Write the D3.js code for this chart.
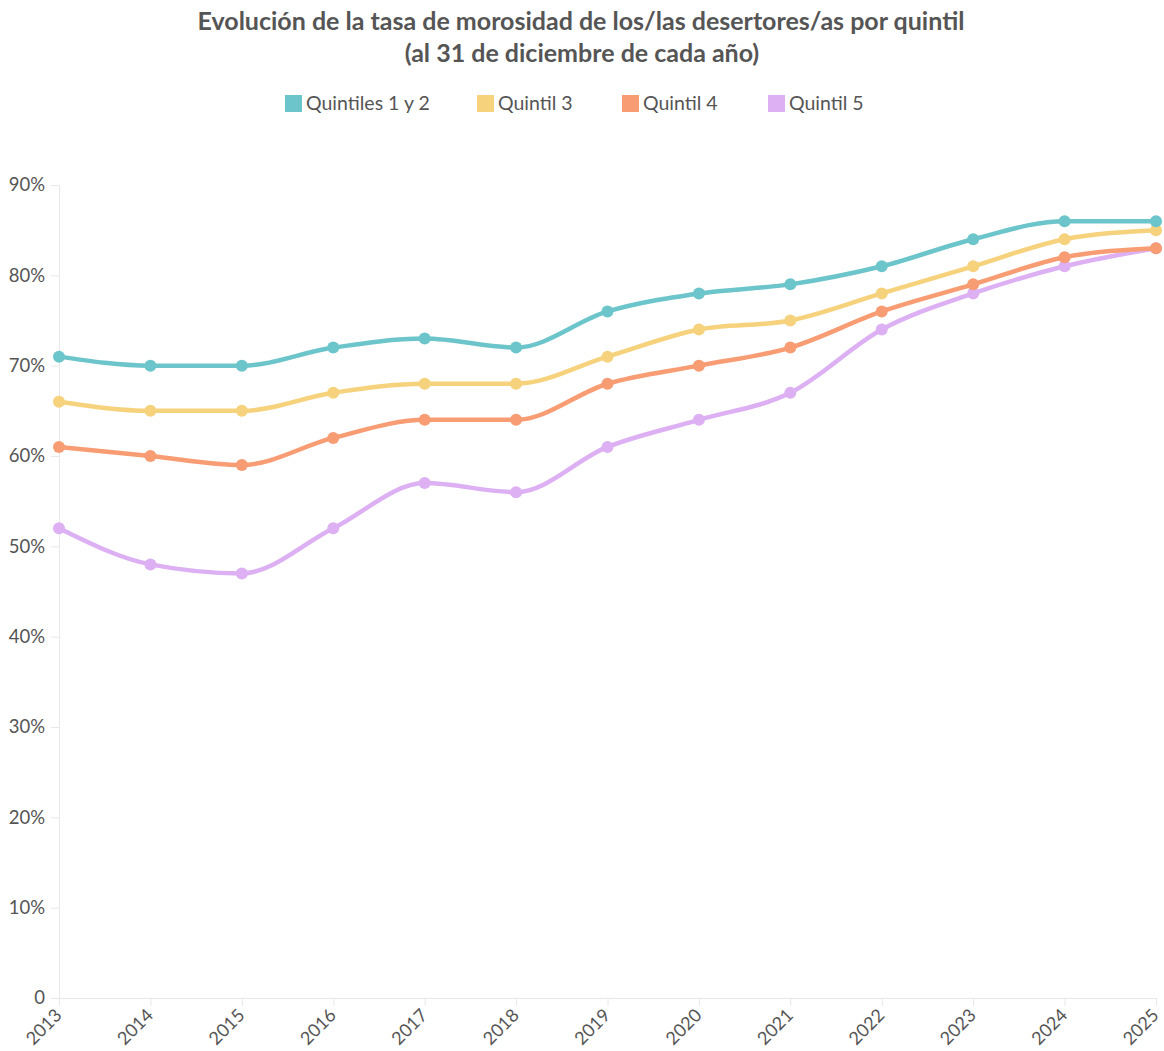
<!DOCTYPE html>
<html>
<head>
<meta charset="utf-8">
<script src="https://cdn.jsdelivr.net/npm/d3@7"></script>
<style>
  body { margin: 0; background: #fff; }
  text { font-family: Lato, "Open Sans", sans-serif; }
</style>
</head>
<body>
<div id="chart"></div>
<script>
var years = ["2013","2014","2015","2016","2017","2018","2019","2020","2021","2022","2023","2024","2025"];
var seriesNames = ["Quintiles 1 y 2", "Quintil 3", "Quintil 4", "Quintil 5"];
var q12 = [71, 70, 70, 72, 73, 72, 76, 78, 79, 81, 84, 86, 86];
var q3  = [66, 65, 65, 67, 68, 68, 71, 74, 75, 78, 81, 84, 85];
var q4  = [61, 60, 59, 62, 64, 64, 68, 70, 72, 76, 79, 82, 83];
var q5  = [52, 48, 47, 52, 57, 56, 61, 64, 67, 74, 78, 81, 83];
var yTicks = [0, 10, 20, 30, 40, 50, 60, 70, 80, 90];
var colors = ["#6cc5ca", "#f6d27c", "#f79c73", "#dcb0f2"];

var w = 1164, h = 1051;
var margin = { left: 59, right: 8, top: 185, bottom: 53 };

var svg = d3.select("#chart").append("svg")
  .attr("width", w)
  .attr("height", h);

// title
svg.append("text")
  .attr("x", 581).attr("y", 30)
  .attr("text-anchor", "middle")
  .attr("font-size", "25px").attr("font-weight", "bold")
  .attr("fill", "#555")
  .text("Evolución de la tasa de morosidad de los/las desertores/as por quintil");
svg.append("text")
  .attr("x", 582).attr("y", 62)
  .attr("text-anchor", "middle")
  .attr("font-size", "25px").attr("font-weight", "bold")
  .attr("fill", "#555")
  .text("(al 31 de diciembre de cada año)");

var x = d3.scalePoint()
  .domain(years)
  .range([margin.left, w - margin.right]);

var y = d3.scaleLinear()
  .domain([0, 90])
  .range([h - margin.bottom, margin.top]);

// axes
var yAxis = svg.append("g")
  .attr("transform", "translate(" + margin.left + ",0)")
  .call(d3.axisLeft(y).tickValues(yTicks).tickSize(8).tickPadding(6)
    .tickFormat(function(d) { return d === 0 ? "0" : d + "%"; }));
yAxis.select(".domain").attr("stroke", "#e8e8e8");
yAxis.selectAll(".tick line").attr("stroke", "#e8e8e8");
yAxis.selectAll(".tick text")
  .attr("font-size", "18.5px").attr("fill", "#555")
  .style("font-family", "Lato, sans-serif");

var xAxis = svg.append("g")
  .attr("transform", "translate(0," + (h - margin.bottom) + ")")
  .call(d3.axisBottom(x).tickSize(8).tickSizeOuter(0));
xAxis.select(".domain").attr("stroke", "#e8e8e8");
xAxis.selectAll(".tick line").attr("stroke", "#e8e8e8");
xAxis.selectAll(".tick text")
  .attr("font-size", "18px").attr("fill", "#555")
  .style("font-family", "Lato, sans-serif")
  .attr("text-anchor", "end")
  .attr("x", 0).attr("y", 0).attr("dy", "0.35em")
  .attr("transform", "translate(-1,14) rotate(-45)");

// lines
var data = [q12, q3, q4, q5];
var line = d3.line()
  .x(function(d, i) { return x(years[i]); })
  .y(function(d) { return y(d); })
  .curve(d3.curveMonotoneX);

var groups = svg.selectAll("g.series")
  .data(data)
  .enter().append("g")
  .attr("class", "series");

// draw from last to first so teal sits on top
groups.sort(function(a, b) { return data.indexOf(b) - data.indexOf(a); });

groups.append("path")
  .attr("d", function(d) { return line(d); })
  .attr("fill", "none")
  .attr("stroke", function(d) { return colors[data.indexOf(d)]; })
  .attr("stroke-width", 4.5);

groups.each(function(s) {
  d3.select(this).selectAll("circle")
    .data(s)
    .enter().append("circle")
    .attr("cx", function(d, i) { return x(years[i]); })
    .attr("cy", function(d) { return y(d); })
    .attr("r", 6)
    .attr("fill", colors[data.indexOf(s)]);
});

// legend
var legendX = [285, 477, 622, 768];
var legend = svg.selectAll("g.legend")
  .data(seriesNames)
  .enter().append("g")
  .attr("class", "legend")
  .attr("transform", function(d, i) { return "translate(" + legendX[i] + ",95)"; });
legend.append("rect")
  .attr("width", 17).attr("height", 17)
  .attr("fill", function(d, i) { return colors[i]; });
legend.append("text")
  .attr("x", 21).attr("y", 15)
  .attr("font-size", "19.5px").attr("fill", "#555")
  .text(function(d) { return d; });
</script>
</body>
</html>
